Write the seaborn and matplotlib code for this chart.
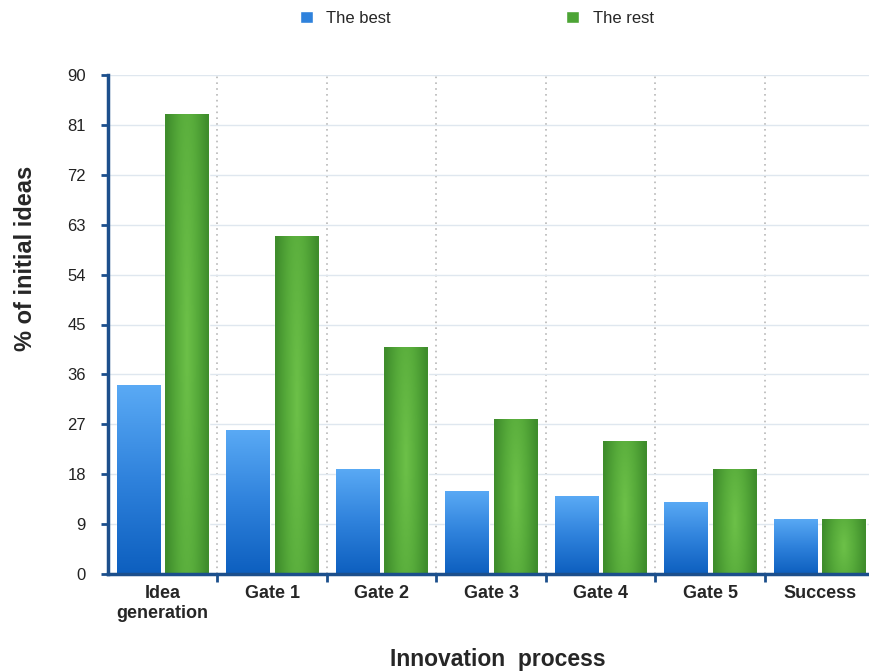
import matplotlib
matplotlib.use("Agg")
import matplotlib.pyplot as plt
import seaborn as sns
import numpy as np
import pandas as pd
from matplotlib.patches import Patch

stages = ["Idea\ngeneration", "Gate 1", "Gate 2", "Gate 3", "Gate 4", "Gate 5", "Success"]
best = [34, 26, 19, 15, 14, 13, 10]
rest = [83, 61, 41, 28, 24, 19, 10]
series = ["The best", "The rest"]
y_ticks = [0, 9, 18, 27, 36, 45, 54, 63, 72, 81, 90]

df = pd.DataFrame({
    "stage": stages * 2,
    "value": best + rest,
    "group": [series[0]] * len(stages) + [series[1]] * len(stages),
})

sns.set_style("white")
plt.rcParams["font.family"] = ["Liberation Sans", "DejaVu Sans"]

fig = plt.figure(figsize=(8.7, 6.71), dpi=100)
ax = fig.add_axes([108 / 870, 97 / 671, 762 / 870, 499 / 671])

sns.barplot(data=df, x="stage", y="value", hue="group", order=stages,
            hue_order=series, palette=["#3d8fe6", "#4ca435"], width=0.88,
            gap=0.1, ax=ax, legend=False, zorder=3)

# gradient fills clipped to each bar
blue_grad = np.linspace(0, 1, 256).reshape(-1, 1)
blue_cmap = matplotlib.colors.LinearSegmentedColormap.from_list(
    "b", ["#5aaaf5", "#2f82dc", "#0d5fbf"])
xx, yy = np.meshgrid(np.linspace(-1, 1, 64), np.linspace(-1, 1, 256))
green_grad = np.clip(1 - np.sqrt(xx ** 2 * 1.0 + yy ** 2 * 0.15), 0, 1)
green_cmap = matplotlib.colors.LinearSegmentedColormap.from_list(
    "g", ["#3f8d2c", "#56aa3a", "#6cc048"])

n = len(stages)
for i, bar in enumerate(ax.patches[:2 * n]):
    x0, y0 = bar.get_x(), bar.get_y()
    w, h = bar.get_width(), bar.get_height()
    grad, cmap = (blue_grad, blue_cmap) if i < n else (green_grad, green_cmap)
    img = ax.imshow(grad, cmap=cmap, aspect="auto", origin="upper",
                    extent=[x0, x0 + w, y0, y0 + h], zorder=4)
    img.set_clip_path(bar)

ax.set_xlim(-0.5, 6.459)
ax.set_ylim(0, 90)
ax.set_yticks(y_ticks)
ax.set_xticks(range(n))
ax.set_xticklabels(stages, fontsize=13, fontweight="bold")
ax.set_xticks([i + 0.5 for i in range(n - 1)], minor=True)
ax.tick_params(axis="y", left=True, labelsize=12, length=5, width=2,
               color="#1c4f8c", direction="out", pad=11, labelcolor="#222222")
ax.tick_params(axis="x", which="major", length=0, pad=8)
ax.tick_params(axis="x", which="minor", bottom=True, length=6, width=2,
               color="#1c4f8c", direction="out")

ax.yaxis.grid(True, color="#dfe7ef", linewidth=1, zorder=0)
ax.xaxis.grid(True, which="minor", color="#b8b8b8", linestyle=(0, (1, 2.5)),
              linewidth=1.2, zorder=0)
ax.set_axisbelow(True)

for side in ["top", "right"]:
    ax.spines[side].set_visible(False)
for side in ["left", "bottom"]:
    ax.spines[side].set_color("#1c4f8c")
    ax.spines[side].set_linewidth(2.5)
    ax.spines[side].set_zorder(6)

ax.set_ylabel("% of initial ideas", fontsize=17, fontweight="bold", labelpad=22)
ax.yaxis.label.set_y(0.633)
ax.set_xlabel("Innovation  process", fontsize=16.5, fontweight="bold", labelpad=19)
ax.xaxis.label.set_x(0.512)

handles = [Patch(facecolor="#2f82dc", label=series[0]),
           Patch(facecolor="#4ca435", label=series[1])]
fig.legend(handles=handles, loc="center", bbox_to_anchor=(0.548, 0.973),
           ncol=2, frameon=False, fontsize=12, handlelength=0.8,
           handleheight=0.8, columnspacing=10.5, handletextpad=0.8)

fig.savefig("out.png", dpi=100)
